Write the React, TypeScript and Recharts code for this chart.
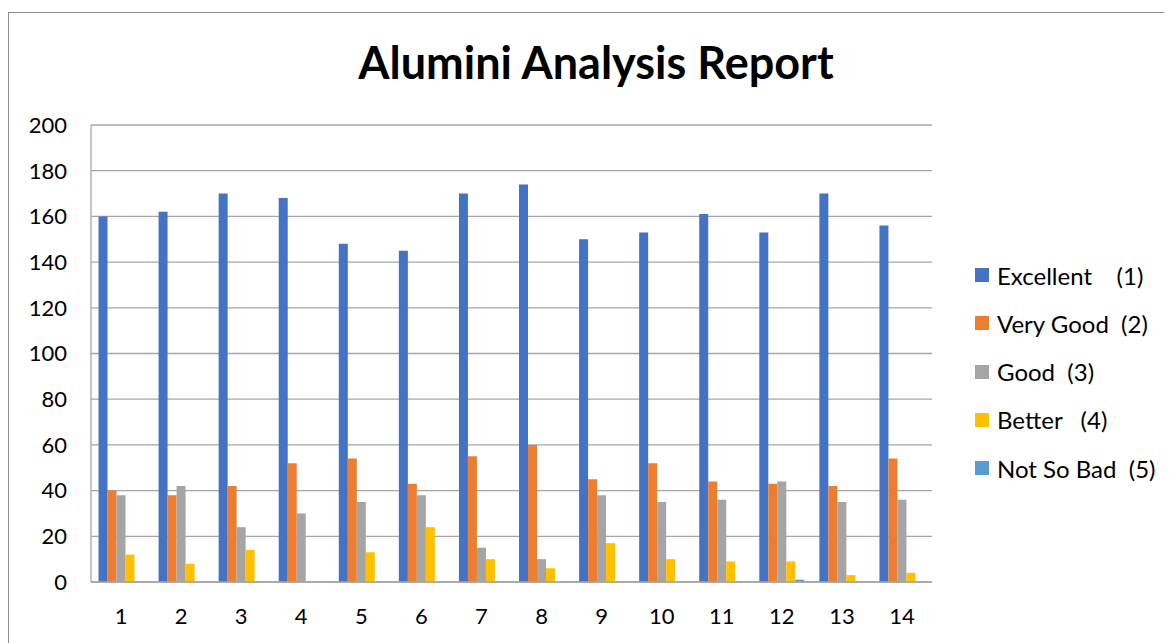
import React from "react";
import { BarChart, Bar, XAxis, YAxis, CartesianGrid } from "recharts";

const categories = ["1", "2", "3", "4", "5", "6", "7", "8", "9", "10", "11", "12", "13", "14"];
const excellent = [160, 162, 170, 168, 148, 145, 170, 174, 150, 153, 161, 153, 170, 156];
const veryGood = [40, 38, 42, 52, 54, 43, 55, 60, 45, 52, 44, 43, 42, 54];
const good = [38, 42, 24, 30, 35, 38, 15, 10, 38, 35, 36, 44, 35, 36];
const better = [12, 8, 14, 0, 13, 24, 10, 6, 17, 10, 9, 9, 3, 4];
const notSoBad = [0, 0, 0, 0, 0, 0, 0, 0, 0, 0, 0, 1, 0, 0];
const yTicks = [0, 20, 40, 60, 80, 100, 120, 140, 160, 180, 200];

const seriesDefs = [
  { key: "excellent", label: "Excellent    (1)", color: "#4472C4" },
  { key: "veryGood", label: "Very Good  (2)", color: "#ED7D31" },
  { key: "good", label: "Good  (3)", color: "#A5A5A5" },
  { key: "better", label: "Better   (4)", color: "#FFC000" },
  { key: "notSoBad", label: "Not So Bad  (5)", color: "#5B9BD5" },
];

const data = categories.map((c, i) => ({
  name: c,
  excellent: excellent[i],
  veryGood: veryGood[i],
  good: good[i],
  better: better[i],
  notSoBad: notSoBad[i],
}));

const FONT = "Lato, 'Open Sans', sans-serif";
const GRID = "#a6a6a6";

const LegendBlock = () => (
  <div style={{ position: "absolute", left: 966, top: 238, width: 200, fontFamily: FONT, fontSize: 24, color: "#000" }}>
    {seriesDefs.map((s) => (
      <div key={s.key} style={{ height: 48.25, display: "flex", alignItems: "center" }}>
        <span style={{ display: "inline-block", width: 14, height: 14, background: s.color, marginRight: 8 }} />
        <span style={{ whiteSpace: "pre" }}>{s.label}</span>
      </div>
    ))}
  </div>
);

export default function App() {
  return (
    <div style={{ paddingTop: 4 }}>
      <div
        style={{
          position: "relative",
          width: 1163,
          height: 630,
          borderLeft: "1px solid #8c8c8c",
          borderTop: "1px solid #8c8c8c",
          background: "#fff",
        }}
      >
        <svg width={1163} height={100} style={{ position: "absolute", left: 0, top: 0 }}>
          <text x={587} y={66} textAnchor="middle" fontFamily={FONT} fontSize={45} fontWeight="bold" fill="#000">
            Alumini Analysis Report
          </text>
        </svg>
        <div style={{ position: "absolute", left: 0, top: 0 }}>
          <BarChart
            width={1163}
            height={630}
            data={data}
            margin={{ top: 112, right: 240, bottom: 21, left: 0 }}
            barCategoryGap="12.5%"
            barGap={0}
          >
            <CartesianGrid vertical={false} stroke={GRID} strokeWidth={1.3} />
            <XAxis
              dataKey="name"
              height={40}
              tickLine={false}
              tickSize={0}
              tickMargin={26}
              axisLine={{ stroke: GRID, strokeWidth: 1.3 }}
              tick={{ fill: "#000", fontSize: 22, fontFamily: FONT }}
              interval={0}
            />
            <YAxis
              width={82}
              domain={[0, 200]}
              ticks={yTicks}
              interval={0}
              tickLine={false}
              tickSize={0}
              tickMargin={24}
              axisLine={{ stroke: GRID, strokeWidth: 1.3 }}
              tick={{ fill: "#000", fontSize: 22, fontFamily: FONT }}
            />
            {seriesDefs.map((s) => (
              <Bar key={s.key} dataKey={s.key} name={s.label} fill={s.color} isAnimationActive={false} />
            ))}
          </BarChart>
        </div>
        <LegendBlock />
      </div>
    </div>
  );
}
